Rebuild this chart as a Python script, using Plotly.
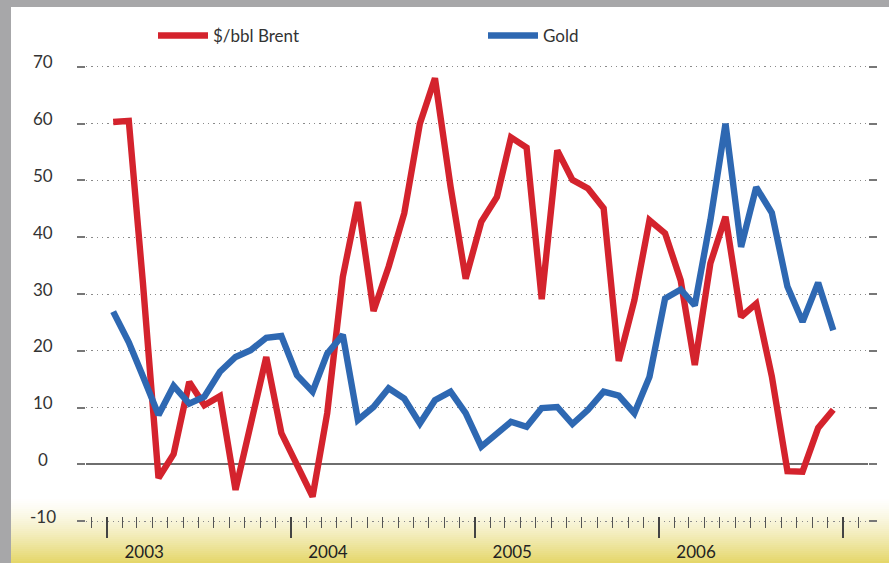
import plotly.graph_objects as go

# Monthly series, Jan 2003 .. Dec 2006
months = [f"{y}-{m:02d}-13" for y in range(2003, 2007) for m in range(1, 13)]

brent = [60.3, 60.5, 32.0, -2.4, 1.8, 14.5, 10.4, 12.0, -4.5, 7.3, 18.9, 5.5,
         0.0, -5.7, 9.0, 33.0, 46.2, 27.0, 34.8, 44.2, 60.0, 68.0, 48.9, 32.7,
         42.7, 47.1, 57.6, 55.8, 29.1, 55.3, 50.1, 48.6, 45.1, 18.2, 28.9, 43.0,
         40.7, 32.4, 17.5, 35.4, 43.6, 26.0, 28.3, 15.5, -1.2, -1.3, 6.4, 9.6]

gold = [26.9, 21.5, 15.5, 8.7, 13.8, 10.7, 11.9, 16.3, 18.9, 20.1, 22.3, 22.6,
        15.7, 12.8, 19.5, 22.8, 7.8, 10.1, 13.4, 11.6, 7.2, 11.3, 12.8, 9.0,
        3.1, 5.5, 7.5, 6.6, 9.9, 10.1, 7.1, 9.6, 12.8, 12.1, 9.0, 15.4,
        29.2, 30.8, 28.0, 43.0, 60.0, 38.3, 48.8, 44.3, 31.3, 25.1, 32.0, 23.6]

series_names = ["$/bbl Brent", "Gold"]
series_colors = ["#d4232d", "#2e68b2"]

y_ticks = [-10, 0, 10, 20, 30, 40, 50, 60, 70]
year_starts = ["2003-01-01", "2004-01-01", "2005-01-01", "2006-01-01", "2007-01-01"]
year_labels = ["2003", "2004", "2005", "2006", ""]

W, H = 889, 563
ML, MR, MT, MB = 86, 21, 55, 30
PW, PH = W - ML - MR, H - MT - MB


def px_x(p):
    return (p - ML) / PW


def px_y(p):
    return (H - MB - p) / PH


FONT = "Lato, 'Open Sans', sans-serif"

fig = go.Figure()
for name, vals, col in zip(series_names, [brent, gold], series_colors):
    fig.add_trace(go.Scatter(x=months, y=vals, name=name, mode="lines",
                             line=dict(color=col, width=6.4)))

shapes = []
# soft yellow fade along the bottom of the page
y0, y1 = 497, 563
top_rgb = (255, 255, 255)
bot_rgb = (228, 214, 104)
steps = 33
for k in range(steps):
    a = y0 + (y1 - y0) * k / steps
    b = y0 + (y1 - y0) * (k + 1) / steps
    t = ((k + 0.5) / steps) ** 1.4
    c = tuple(round(top_rgb[i] + (bot_rgb[i] - top_rgb[i]) * t) for i in range(3))
    shapes.append(dict(type="rect", xref="paper", yref="paper",
                       x0=px_x(0), x1=px_x(W), y0=px_y(b + 0.6), y1=px_y(a),
                       fillcolor=f"rgb{c}", line=dict(width=0), layer="below"))
# grey frame on the top and left edges
frame = "#a7a7a9"
shapes.append(dict(type="rect", xref="paper", yref="paper",
                   x0=px_x(0), x1=px_x(W), y0=px_y(7), y1=px_y(0),
                   fillcolor=frame, line=dict(width=0), layer="below"))
shapes.append(dict(type="rect", xref="paper", yref="paper",
                   x0=px_x(0), x1=px_x(11), y0=px_y(H), y1=px_y(0),
                   fillcolor=frame, line=dict(width=0), layer="below"))

annotations = [dict(text=str(v), xref="paper", yref="y", x=px_x(43), y=v,
                    yshift=5, showarrow=False, xanchor="center", yanchor="middle",
                    font=dict(family=FONT, size=17, color="#333333"))
               for v in y_ticks]

fig.update_layout(
    width=W, height=H,
    margin=dict(l=ML, r=MR, t=MT, b=MB, pad=0, autoexpand=False),
    paper_bgcolor="white",
    plot_bgcolor="rgba(0,0,0,0)",
    font=dict(family=FONT, size=17, color="#333333"),
    shapes=shapes,
    annotations=annotations,
    showlegend=True,
    legend=dict(orientation="h", x=px_x(153), y=px_y(36), xanchor="left",
                yanchor="middle", entrywidth=265, entrywidthmode="pixels",
                itemwidth=50, bgcolor="rgba(0,0,0,0)",
                font=dict(family=FONT, size=17, color="#333333")),
    xaxis=dict(
        type="date",
        range=["2002-11-20", "2007-02-20"],
        anchor="free", position=px_y(516),
        showgrid=False, zeroline=False, showline=False,
        tickmode="array", tickvals=year_starts, ticktext=year_labels,
        ticks="outside", ticklen=21, tickwidth=1.5, tickcolor="#444444",
        ticklabelshift=37,
        tickfont=dict(family=FONT, size=17, color="#222222"),
        minor=dict(ticks="outside", ticklen=11, tickwidth=1.2,
                   tickcolor="#555555", dtick="M1", tick0="2003-01-01"),
    ),
    yaxis=dict(
        range=[-12.1, 72.1],
        tickmode="array", tickvals=y_ticks, showticklabels=False,
        ticks="outside", ticklen=8, tickwidth=2, tickcolor="#777777",
        mirror="ticks",
        showgrid=True, gridcolor="#8a8a8a", gridwidth=1.2, griddash="1.3px,4px",
        zeroline=True, zerolinecolor="#6e6e6e", zerolinewidth=1.6,
        showline=False,
    ),
)

fig.write_html("out.html")
